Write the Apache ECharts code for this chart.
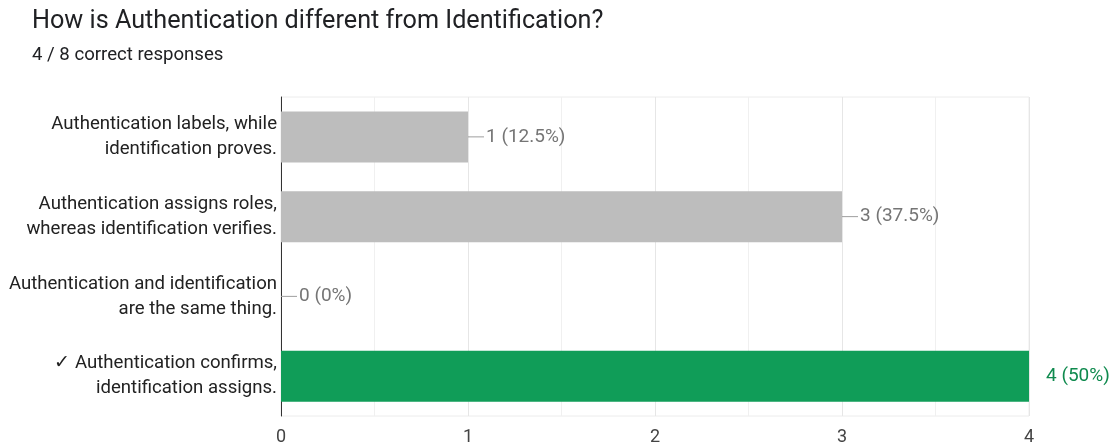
<!DOCTYPE html>
<html>
<head>
<meta charset="utf-8">
<script src="https://cdn.jsdelivr.net/npm/echarts@6/dist/echarts.min.js"></script>
<style>
html,body{margin:0;padding:0;background:#fff;}
#c{width:1119px;height:446px;}
</style>
</head>
<body>
<div id="c"></div>
<script>
const titleText = 'How is Authentication different from Identification?';
const subtitleText = '4 / 8 correct responses';
const categories = [
  'Authentication labels, while\nidentification proves.',
  'Authentication assigns roles,\nwhereas identification verifies.',
  'Authentication and identification\nare the same thing.',
  '✓ Authentication confirms,\nidentification assigns.'
];
const counts = [1, 3, 0, 4];
const percents = ['12.5%', '37.5%', '0%', '50%'];
const correct = [false, false, false, true];
const xTicks = [0, 1, 2, 3, 4];

const GRAY = '#bdbdbd', GREEN = '#109d58';

const data = counts.map((v, i) => {
  const txt = v + ' (' + percents[i] + ')';
  if (correct[i]) {
    return {
      value: v,
      itemStyle: { color: GREEN },
      label: { distance: 17, formatter: '{g|' + txt + '}' }
    };
  }
  return {
    value: v,
    itemStyle: { color: GRAY },
    label: { distance: 0, formatter: '{ln| }{t|' + txt + '}' }
  };
});

const chart = echarts.init(document.getElementById('c'), null, { renderer: 'canvas' });
chart.setOption({
  animation: false,
  backgroundColor: '#fff',
  textStyle: { fontFamily: 'Roboto' },
  title: [
    { text: titleText, left: 27, top: 4, textStyle: { fontSize: 25.2, fontWeight: 'normal', color: '#202124', fontFamily: 'Roboto' } },
    { text: subtitleText, left: 27, top: 41, textStyle: { fontSize: 18.6, fontWeight: 'normal', color: '#202124', fontFamily: 'Roboto' } }
  ],
  grid: { left: 281, right: 90, top: 97, bottom: 29, show: true, borderColor: '#ececec', borderWidth: 1 },
  xAxis: {
    type: 'value', min: xTicks[0], max: xTicks[xTicks.length - 1], interval: 1,
    axisLine: { show: false },
    axisTick: { show: false },
    axisLabel: { color: '#444', fontSize: 18, margin: 12, fontFamily: 'Roboto' },
    splitLine: { show: true, lineStyle: { color: '#e6e6e6' } },
    minorTick: { show: false, splitNumber: 2 },
    minorSplitLine: { show: true, lineStyle: { color: '#f0f0f0' } }
  },
  yAxis: {
    type: 'category', inverse: true, data: categories,
    axisLine: { show: true, lineStyle: { color: '#333', width: 1 } },
    axisTick: { show: false },
    axisLabel: { color: '#222', fontSize: 18.6, lineHeight: 25, margin: 4, align: 'right', fontFamily: 'Roboto' },
    splitLine: { show: false }
  },
  series: [{
    type: 'bar',
    data: data,
    barWidth: 51,
    label: {
      show: true, position: 'right',
      rich: {
        ln: { width: 16, height: 1, backgroundColor: '#9e9e9e', fontSize: 1 },
        t: { color: '#757575', fontSize: 19, fontFamily: 'Roboto', padding: [0, 0, 0, 2] },
        g: { color: '#0f8a4e', fontSize: 19, fontFamily: 'Roboto' }
      }
    }
  }]
});
</script>
</body>
</html>
